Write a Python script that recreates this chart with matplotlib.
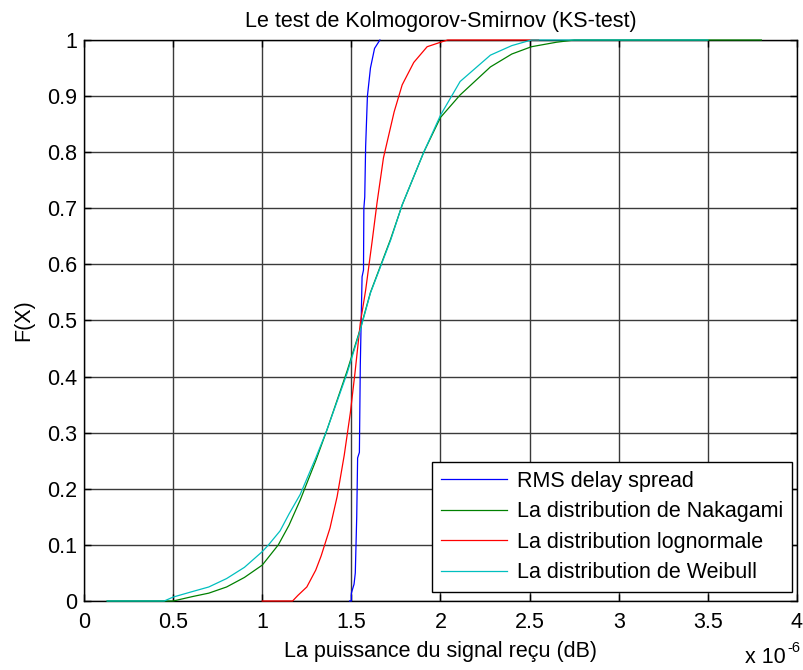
import matplotlib
matplotlib.use("Agg")
import matplotlib.pyplot as plt
from matplotlib.ticker import FormatStrFormatter, MultipleLocator

plt.rcParams['font.family'] = ['Liberation Sans', 'DejaVu Sans']

# x values in units of 1e-6
rms_x = [1.49, 1.50, 1.50, 1.515, 1.522, 1.53, 1.535, 1.545, 1.55, 1.555, 1.56, 1.568,
         1.57, 1.575, 1.58, 1.59, 1.607, 1.63, 1.66]
rms_y = [0.0, 0.0, 0.014, 0.03, 0.05, 0.15, 0.255, 0.265, 0.42, 0.50, 0.578, 0.59,
         0.70, 0.72, 0.81, 0.90, 0.95, 0.985, 1.0]

naka_x = [0.13, 0.5, 0.61, 0.7, 0.8, 0.9, 1.0, 1.09, 1.15, 1.213, 1.3, 1.363, 1.476,
          1.55, 1.607, 1.72, 1.785, 1.906, 2.0, 2.11, 2.28, 2.4, 2.51, 2.65, 2.75, 3.8]
naka_y = [0.0, 0.0, 0.008, 0.014, 0.025, 0.042, 0.064, 0.10, 0.135, 0.18, 0.25, 0.305,
          0.41, 0.485, 0.55, 0.645, 0.706, 0.80, 0.862, 0.902, 0.952, 0.975, 0.988,
          0.996, 1.0, 1.0]

logn_x = [1.0, 1.17, 1.2, 1.25, 1.3, 1.33, 1.36, 1.38, 1.42, 1.46, 1.494, 1.52, 1.55,
          1.58, 1.616, 1.644, 1.68, 1.74, 1.785, 1.85, 1.925, 2.0, 2.04, 2.55]
logn_y = [0.0, 0.0, 0.01, 0.025, 0.055, 0.08, 0.11, 0.13, 0.186, 0.26, 0.335, 0.406,
          0.495, 0.554, 0.64, 0.71, 0.79, 0.872, 0.92, 0.96, 0.988, 0.996, 1.0, 1.0]

weib_x = [0.13, 0.45, 0.5, 0.61, 0.7, 0.8, 0.9, 1.0, 1.035, 1.1, 1.15, 1.213, 1.3, 1.363,
          1.476, 1.55, 1.607, 1.72, 1.785, 1.906, 2.0, 2.11, 2.28, 2.4, 2.51, 3.5]
weib_y = [0.0, 0.0, 0.007, 0.017, 0.025, 0.04, 0.06, 0.088, 0.10, 0.125, 0.155, 0.19,
          0.255, 0.305, 0.406, 0.483, 0.549, 0.643, 0.706, 0.80, 0.866, 0.926, 0.973,
          0.99, 1.0, 1.0]

labels = ['RMS delay spread', 'La distribution de Nakagami',
          'La distribution lognormale', 'La distribution de Weibull']
colors = ['#0000ff', '#008000', '#ff0000', '#00bfbf']

title = 'Le test de Kolmogorov-Smirnov (KS-test)'
xlabel = 'La puissance du signal reçu (dB)'
ylabel = 'F(X)'

FS = 15.5

fig = plt.figure(figsize=(8.04, 6.70), dpi=100)
ax = fig.add_axes([84/804, 1-601/670, 713/804, 561/670])

series = [(rms_x, rms_y), (naka_x, naka_y), (logn_x, logn_y), (weib_x, weib_y)]
for (xs, ys), c, lab in zip(series, colors, labels):
    ax.plot(xs, ys, color=c, lw=0.9, label=lab, zorder=3, clip_on=False)

ax.set_xlim(0, 4)
ax.set_ylim(0, 1)
ax.xaxis.set_major_locator(MultipleLocator(0.5))
ax.yaxis.set_major_locator(MultipleLocator(0.1))
ax.xaxis.set_major_formatter(FormatStrFormatter('%g'))
ax.yaxis.set_major_formatter(FormatStrFormatter('%g'))
ax.grid(True, color='#3a3a3a', lw=1.0, ls='-', zorder=1)
ax.set_axisbelow(True)
ax.tick_params(direction='in', length=5, width=1, top=True, right=True,
               labelsize=FS, colors='black')
ax.tick_params(axis='x', pad=8)
ax.tick_params(axis='y', pad=5)
for s in ax.spines.values():
    s.set_linewidth(1.0)
    s.set_color('black')

ax.set_title(title, fontsize=FS, pad=9)
ax.set_xlabel(xlabel, fontsize=FS, labelpad=6)
ax.set_ylabel(ylabel, fontsize=FS, labelpad=9)

leg = ax.legend(loc='lower right', bbox_to_anchor=(0.993, 0.016), fontsize=FS,
                fancybox=False, framealpha=1, edgecolor='black',
                handlelength=3.1, handletextpad=0.45, labelspacing=0.44,
                borderpad=0.4, borderaxespad=0)
leg.get_frame().set_linewidth(1.0)

fig.text(745/804, 1-663/670, 'x 10', fontsize=FS, ha='left', va='baseline')
fig.text(787/804, 1-652/670, '-6', fontsize=10.5, ha='left', va='baseline')

fig.savefig('out.png', dpi=100)
